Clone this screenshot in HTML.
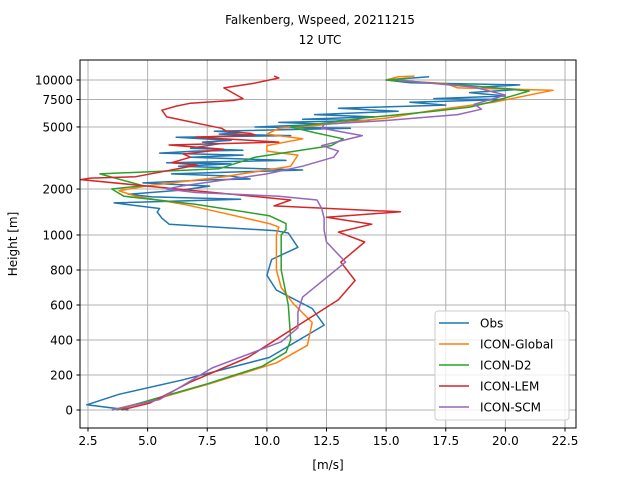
<!DOCTYPE html>
<html><head><meta charset="utf-8"><style>
body{margin:0;background:#fff;font-family:"Liberation Sans","DejaVu Sans",sans-serif}
svg text{font-family:"DejaVu Sans","Liberation Sans",sans-serif;font-size:12px;fill:#000}
</style></head><body>
<svg id="chart" width="640" height="480" viewBox="0 0 640 480" xmlns="http://www.w3.org/2000/svg">
<rect width="640" height="480" fill="#fff"/>
<text x="320" y="24" text-anchor="middle">Falkenberg, Wspeed, 20211215</text>
<text x="320" y="44" text-anchor="middle">12 UTC</text>
<g id="grid"></g><g id="series"></g>
<rect x="80" y="60" width="496" height="368" fill="none" stroke="#000" stroke-width="1"/>
<g id="ticks"></g>
<text x="328" y="469" text-anchor="middle">[m/s]</text>
<text transform="translate(17,244) rotate(-90)" text-anchor="middle">Height [m]</text>
<g id="legend"></g>
</svg>
<script>
const xTicks=[2.5,5.0,7.5,10.0,12.5,15.0,17.5,20.0,22.5];
const yTicks=[0,200,400,600,800,1000,2000,5000,7500,10000];
const seriesNames=["Obs","ICON-Global","ICON-D2","ICON-LEM","ICON-SCM"];
const seriesColors=["#1f77b4","#ff7f0e","#2ca02c","#d62728","#9467bd"];
const obsSpeed=[4.2,2.45,3.8,6.4,10.1,12.4,11.9,10.4,10,10.2,11.3,10.9,10.4,5.9,5.6,5.4,5.5,3.6,8.9,5.2,4.2,6.4,7.6,4.8,7.6,9.3,8.5,6,11.5,6.3,8.5,5.8,10.8,6.8,9,5.5,7,9,6.8,7.5,8,7.3,8.5,6.2,11,8,8.9,7.8,13.5,9.5,12.5,10.5,14.3,11.5,14.5,12,15.5,13,17.5,16,20,17,20,18.5,20.6,19,20.6,16,15,16.8];
const obsHeight=[0,30,90,170,300,485,580,685,770,860,930,1045,1080,1190,1300,1425,1500,1630,1720,1780,1850,1970,2090,2190,2290,2320,2420,2500,2650,2800,2900,2950,3050,3200,3300,3400,3500,3550,3650,3800,3900,4000,4100,4300,4400,4500,4600,4700,4900,5000,5200,5350,5500,5600,5800,6000,6300,6600,6900,7200,7500,7600,7900,8300,8700,9000,9300,9600,10000,10500];
const globalSpeed=[3.5,5.3,7.6,10.4,11.7,11.9,11.1,10.6,10.4,10.4,10.5,10.1,8.2,6.5,4.5,3.8,5,8.2,11,11.3,10,10,11.5,10,10.5,12,15,17,19.5,22,18,17.5,15,15.5,16.2];
const globalHeight=[0,60,150,270,370,500,610,700,800,1000,1140,1200,1400,1600,1800,1950,2100,2400,2800,3300,3500,3800,4200,4500,4900,5100,5700,6400,7200,8600,8900,9500,10000,10500,10600];
const d2Speed=[3.7,5.2,7.5,9.8,10.8,11,10.9,10.6,10.6,10.8,10.8,10.1,7,4,3.5,4.8,3,8,9.5,12.7,13.2,12,11,12.5,14,17,18.5,19.5,21,18.5,15,16];
const d2Height=[0,60,150,250,330,400,600,800,1000,1100,1200,1350,1600,1800,2000,2100,2500,2700,3200,3800,4200,4600,5000,5300,5700,6300,6700,7300,8500,9200,10000,10300];
const lemSpeed=[3.9,5.1,6.8,9.2,13,13.7,13.1,14.1,13,14.4,12.5,15.6,10.3,11,2.2,2.6,4.5,7.1,6,6.8,6.5,8.2,5.9,10.5,8.8,7,9.5,9.3,8.3,8.1,5.8,5.6,6.2,6.8,8.6,9,8.2,9.4,10.5,10.3];
const lemHeight=[0,40,160,300,630,740,845,960,1060,1190,1320,1430,1560,1700,2300,2350,2400,2850,2950,3200,3350,3600,3830,4000,4150,4300,4450,4550,4700,4900,5800,6400,6800,7100,7400,7600,8900,9500,10300,10600];
const scmSpeed=[3.5,5.5,7.7,10.6,11.3,11.3,11.5,13.3,12.5,12.4,12.4,12.3,12.1,10.5,7,5.8,6.5,10,11.5,12.8,13,12.3,14,12.3,12.4,15,18,19,18.7,20,18.7,17,15.5];
const scmHeight=[0,60,240,390,470,560,645,845,960,1090,1300,1500,1700,1800,1900,2000,2100,2500,2800,3200,3500,3800,4400,4900,5200,5500,6000,6500,7000,8000,9000,9500,10000];
const allSpeed=[obsSpeed,globalSpeed,d2Speed,lemSpeed,scmSpeed];
const allHeight=[obsHeight,globalHeight,d2Height,lemHeight,scmHeight];

const NS="http://www.w3.org/2000/svg";
const L=80,R=576,T=60,B=428;
function xs(v){return 88+(v-2.5)*(477/20);}
function ys(h){return h<=1000?410-h*0.175:236-156*Math.log10(h/1000);}
function mk(tag,attrs,parent){const e=document.createElementNS(NS,tag);for(const k in attrs)e.setAttribute(k,attrs[k]);parent.appendChild(e);return e;}
const grid=document.getElementById('grid'),ticks=document.getElementById('ticks');
xTicks.forEach(v=>{const x=xs(v);
 const g=mk('line',{x1:x,x2:x,y1:T,y2:B,stroke:'#b0b0b0','stroke-width':1},grid);
 
 
 mk('line',{x1:x,x2:x,y1:B,y2:B+3.5,stroke:'#000'},ticks);
 const t=mk('text',{x:x,y:B+17,'text-anchor':'middle'},ticks);t.textContent=v.toFixed(1);
 
 
});
yTicks.forEach(v=>{const y=ys(v);
 const g=mk('line',{x1:L,x2:R,y1:y,y2:y,stroke:'#b0b0b0','stroke-width':1},grid);
 
 
 mk('line',{x1:L-3.5,x2:L,y1:y,y2:y,stroke:'#000'},ticks);
 const t=mk('text',{x:L-7,y:y+4.5,'text-anchor':'end'},ticks);t.textContent=String(v);
 
 
});
const sg=document.getElementById('series');
allSpeed.forEach((sp,i)=>{const hs=allHeight[i];
 const d=sp.map((v,j)=>(j?'L':'M')+xs(v).toFixed(1)+','+ys(hs[j]).toFixed(1)).join(' ');
 const p=mk('path',{d:d,fill:'none',stroke:seriesColors[i],'stroke-width':1.5,'stroke-linejoin':'round'},sg);
 
 
});
const lg=document.getElementById('legend');
mk('rect',{x:435,y:311,width:134,height:109,rx:3,fill:'#fff','fill-opacity':0.8,stroke:'#ccc'},lg);
seriesNames.forEach((n,i)=>{const y=323+i*21;
 const g=mk('g',{},lg);
 
 
 mk('line',{x1:439,x2:469,y1:y,y2:y,stroke:seriesColors[i],'stroke-width':1.5},g);
 const t=mk('text',{x:480,y:y+4.5},g);t.textContent=n;
});
</script>
</body></html>
